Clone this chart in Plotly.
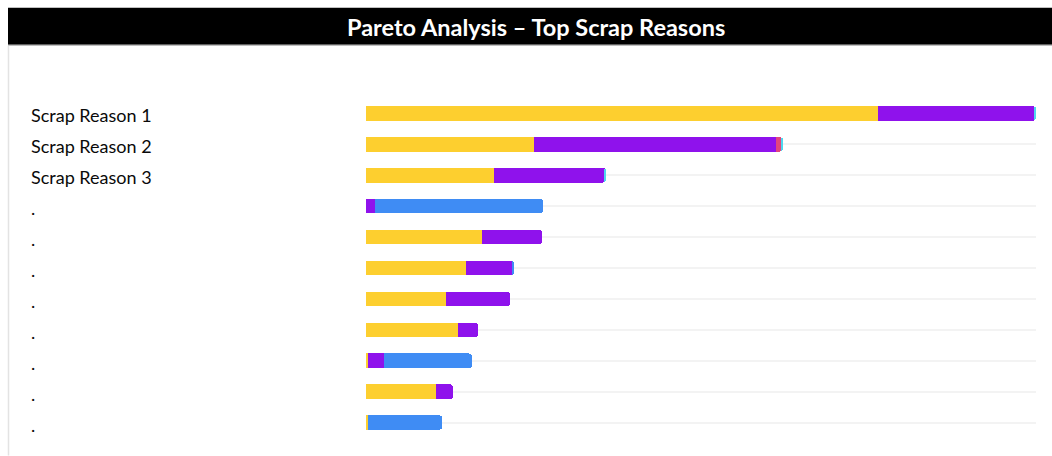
import plotly.graph_objects as go

categories = ["Scrap Reason 1", "Scrap Reason 2", "Scrap Reason 3", ".", ".", ".", ".", ".", ".", ".", "."]
yellow = [256, 84, 64, 0, 58, 50, 40, 46, 1, 35, 1]
purple = [78, 121, 55, 4.5, 30, 23, 32, 10, 8, 8.5, 0]
blue = [0, 0, 0, 84, 0, 1, 0, 0, 44, 0, 37]
pink = [0, 2.5, 0, 0, 0, 0, 0, 0, 0, 0, 0]
cyan = [1, 1, 1, 0, 0, 0, 0, 0, 0, 0, 0]
title_text = "Pareto Analysis – Top Scrap Reasons"

W, H = 1052, 456
L, R = 366, 1036
T, B = 97.5, 438.5

def px(x):
    return (x - L) / (R - L)

def py(y):
    return (B - y) / (B - T)

ids = list(range(len(categories)))

fig = go.Figure()
series = [
    ("Yellow", yellow, "#FDCF2F"),
    ("Purple", purple, "#8F12EC"),
    ("Blue", blue, "#3F8CF4"),
    ("Pink", pink, "#E2457E"),
    ("Cyan", cyan, "#4FD6EE"),
]
for name, vals, col in series:
    fig.add_trace(go.Bar(y=ids, x=vals, orientation="h", name=name,
                         marker=dict(color=col, line=dict(width=0)),
                         hoverinfo="x+name"))

shapes = [
    dict(type="rect", xref="paper", yref="paper", x0=px(8), x1=px(1052), y0=py(44), y1=py(7),
         fillcolor="black", line=dict(width=0), layer="above"),
    dict(type="line", xref="paper", yref="paper", x0=px(8), x1=px(1052), y0=py(44.5), y1=py(44.5),
         line=dict(color="#9a9a9a", width=1)),
    dict(type="line", xref="paper", yref="paper", x0=px(8.5), x1=px(8.5), y0=py(45), y1=py(456),
         line=dict(color="#e3e3e3", width=1.5)),
]

annotations = [
    dict(text="<b>" + title_text + "</b>", xref="paper", yref="paper", x=px(536), y=py(26),
         xanchor="center", yanchor="middle", showarrow=False,
         font=dict(family="Lato", size=23.5, color="white")),
]
for i, c in enumerate(categories):
    annotations.append(dict(text=c, xref="paper", yref="y", x=px(29), y=i, yshift=-2,
                            xanchor="left", yanchor="middle", showarrow=False,
                            font=dict(family="Lato", size=18, color="#0a0a0a")))

fig.update_layout(
    width=W, height=H,
    barmode="stack", bargap=0.53, barcornerradius=3,
    showlegend=False,
    plot_bgcolor="white", paper_bgcolor="white",
    margin=dict(l=L, r=W - R, t=T, b=H - B, pad=0),
    xaxis=dict(range=[0, 335], showgrid=False, zeroline=False, showticklabels=False,
               showline=False, ticks="", fixedrange=True),
    yaxis=dict(range=[len(categories) - 0.5, -0.5], tickvals=ids, showticklabels=False,
               showgrid=True, gridcolor="#f3f3f3", gridwidth=1.5, zeroline=False,
               showline=False, ticks="", fixedrange=True),
    shapes=shapes, annotations=annotations,
)

fig.write_html("out.html", config={"displayModeBar": False},
               post_script="document.body.style.margin='0';document.body.style.overflow='hidden';")
